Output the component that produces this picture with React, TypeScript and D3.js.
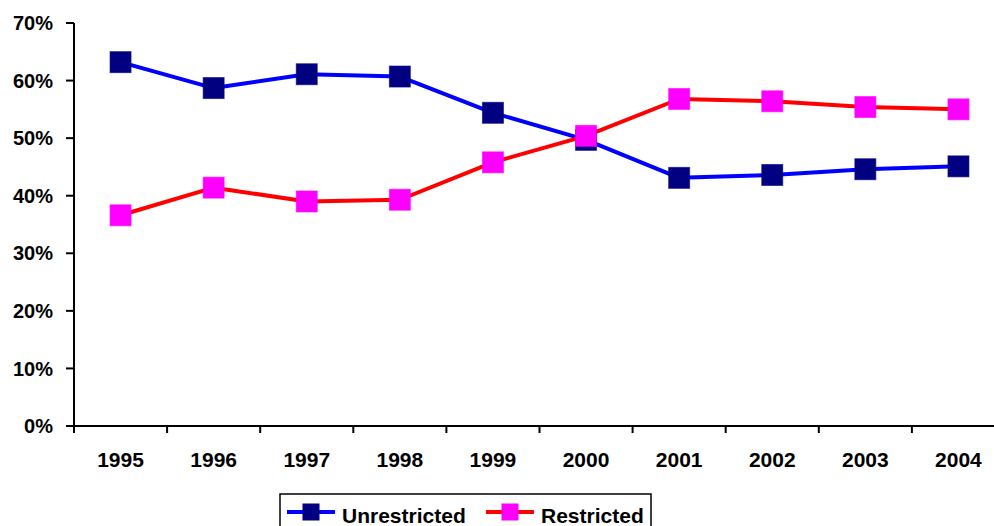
import { useEffect, useRef } from 'react';
import * as d3 from 'd3';

const YEARS = ['1995', '1996', '1997', '1998', '1999', '2000', '2001', '2002', '2003', '2004'];
const UNRESTRICTED = [0.632, 0.587, 0.611, 0.607, 0.544, 0.497, 0.431, 0.436, 0.446, 0.451];
const RESTRICTED = [0.366, 0.414, 0.390, 0.393, 0.458, 0.504, 0.568, 0.564, 0.554, 0.550];
const Y_TICKS = [0, 0.1, 0.2, 0.3, 0.4, 0.5, 0.6, 0.7];

const SERIES = [
  { name: 'Unrestricted', values: UNRESTRICTED, line: '#0000ff', marker: '#000080' },
  { name: 'Restricted', values: RESTRICTED, line: '#ff0000', marker: '#ff00ff' },
];

export default function App() {
  const svgRef = useRef<SVGSVGElement>(null);

  useEffect(() => {
    const svg = d3.select(svgRef.current);
    svg.selectAll('*').remove();

    const width = 994;
    const font = 'Liberation Sans, Arial, sans-serif';

    const x = d3.scaleBand().domain(YEARS).range([74, 1005]);
    const y = d3.scaleLinear().domain([0, 0.7]).range([426, 23]);
    const cx = (d: string) => (x(d) ?? 0) + x.bandwidth() / 2;

    // y axis
    const yAxis = svg.append('g').attr('transform', 'translate(74,0)');
    yAxis.append('line').attr('x1', 0).attr('x2', 0).attr('y1', y(0.7)).attr('y2', y(0))
      .attr('stroke', '#000').attr('stroke-width', 2);
    yAxis.selectAll('line.tick').data(Y_TICKS).join('line')
      .attr('class', 'tick')
      .attr('x1', -8).attr('x2', 0)
      .attr('y1', d => y(d)).attr('y2', d => y(d))
      .attr('stroke', '#000').attr('stroke-width', 2);
    yAxis.selectAll('text').data(Y_TICKS).join('text')
      .attr('x', -21).attr('y', d => y(d))
      .attr('dy', '0.36em')
      .attr('text-anchor', 'end')
      .attr('font-family', font).attr('font-weight', 'bold').attr('font-size', 20)
      .text(d => d3.format('.0%')(d));

    // x axis
    const xAxis = svg.append('g').attr('transform', `translate(0,${y(0)})`);
    xAxis.append('line').attr('x1', 66).attr('x2', width).attr('y1', 0).attr('y2', 0)
      .attr('stroke', '#000').attr('stroke-width', 2);
    xAxis.selectAll('line.tick').data(YEARS).join('line')
      .attr('class', 'tick')
      .attr('x1', d => x(d) ?? 0).attr('x2', d => x(d) ?? 0)
      .attr('y1', 0).attr('y2', 7)
      .attr('stroke', '#000').attr('stroke-width', 2);
    xAxis.selectAll('text').data(YEARS).join('text')
      .attr('x', d => cx(d)).attr('y', 41)
      .attr('text-anchor', 'middle')
      .attr('font-family', font).attr('font-weight', 'bold').attr('font-size', 21)
      .text(d => d);

    // series
    const line = d3.line<number>()
      .x((_, i) => cx(YEARS[i]))
      .y(d => y(d));

    for (const s of SERIES) {
      svg.append('path')
        .attr('d', line(s.values))
        .attr('fill', 'none')
        .attr('stroke', s.line)
        .attr('stroke-width', 4)
        .attr('stroke-linejoin', 'round');
    }
    for (const s of SERIES) {
      svg.append('g').selectAll('rect').data(s.values).join('rect')
        .attr('x', (_, i) => cx(YEARS[i]) - 10.5)
        .attr('y', d => y(d) - 10.5)
        .attr('width', 21).attr('height', 21)
        .attr('fill', s.marker)
        .attr('stroke', s.marker).attr('stroke-opacity', 0.6).attr('stroke-width', 1);
    }

    // legend
    const legend = svg.append('g');
    legend.append('rect')
      .attr('x', 280).attr('y', 494).attr('width', 371).attr('height', 50)
      .attr('fill', '#fff').attr('stroke', '#000').attr('stroke-width', 1.5);
    const items = [
      { s: SERIES[0], x0: 287 },
      { s: SERIES[1], x0: 486 },
    ];
    for (const { s, x0 } of items) {
      legend.append('line')
        .attr('x1', x0).attr('x2', x0 + 48).attr('y1', 512).attr('y2', 512)
        .attr('stroke', s.line).attr('stroke-width', 4);
      legend.append('rect')
        .attr('x', x0 + 24 - 8.5).attr('y', 512 - 8.5).attr('width', 17).attr('height', 17)
        .attr('fill', s.marker);
      legend.append('text')
        .attr('x', x0 + 55).attr('y', 523)
        .attr('font-family', font).attr('font-weight', 'bold').attr('font-size', 21)
        .text(s.name);
    }
  }, []);

  return (
    <svg
      ref={svgRef}
      width={994}
      height={526}
      style={{ position: 'absolute', left: 0, top: 0, background: '#fff' }}
    />
  );
}
